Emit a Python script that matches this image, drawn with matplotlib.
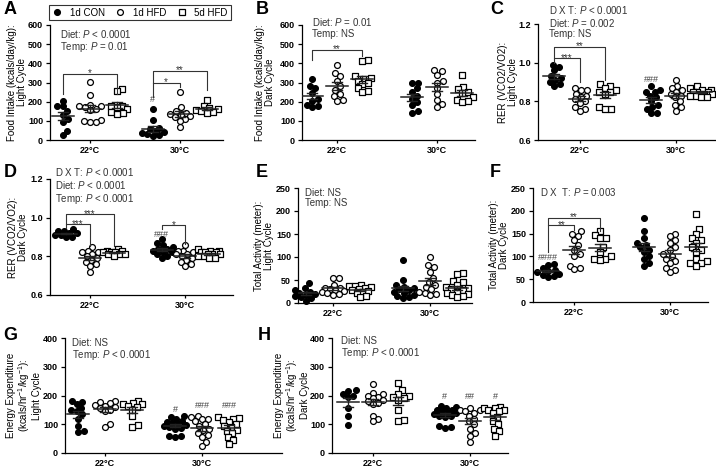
import numpy as np
import matplotlib
matplotlib.use('Agg')
import matplotlib.pyplot as plt
from matplotlib.lines import Line2D
from matplotlib.ticker import FormatStrFormatter

plt.rcParams['font.family'] = ['Liberation Sans', 'DejaVu Sans']
plt.rcParams['mathtext.fontset'] = 'custom'
plt.rcParams['mathtext.it'] = 'Liberation Sans:italic'
plt.rcParams['mathtext.rm'] = 'Liberation Sans'
plt.rcParams['mathtext.bf'] = 'Liberation Sans:bold'

groups = ['1d CON', '1d HFD', '5d HFD']
temps = ['22°C', '30°C']

# each list: [22°C values, 30°C values]
# A: food intake, light cycle
A_con = [[205, 175, 175, 150, 130, 110, 95, 45, 25], [160, 105, 65, 55, 45, 40, 35, 30, 25, 20]]
A_hfd1 = [[305, 235, 185, 180, 175, 170, 160, 155, 105, 100, 95, 95], [250, 170, 150, 140, 135, 130, 125, 120, 110, 100, 70]]
A_hfd5 = [[265, 255, 180, 175, 170, 160, 145, 140, 135], [210, 175, 165, 160, 155, 150, 145, 140]]

# B: food intake, dark cycle
B_con = [[320, 280, 270, 245, 215, 205, 185, 175, 170], [300, 300, 270, 250, 230, 215, 200, 185, 150, 140]]
B_hfd1 = [[390, 350, 335, 310, 280, 260, 240, 230, 210, 205], [365, 360, 340, 310, 300, 270, 240, 210, 190, 170]]
B_hfd5 = [[420, 410, 335, 325, 320, 310, 300, 290, 270, 255, 250], [340, 275, 265, 250, 245, 225, 210, 205, 200]]

# C: RER, light cycle
C_con = [[0.99, 0.98, 0.96, 0.93, 0.92, 0.91, 0.90, 0.89, 0.88], [0.88, 0.86, 0.85, 0.85, 0.83, 0.82, 0.80, 0.78, 0.77, 0.76, 0.74, 0.74]]
C_hfd1 = [[0.87, 0.86, 0.86, 0.84, 0.83, 0.82, 0.81, 0.80, 0.79, 0.77, 0.76, 0.75], [0.91, 0.88, 0.87, 0.86, 0.85, 0.84, 0.83, 0.82, 0.80, 0.78, 0.77, 0.75]]
C_hfd5 = [[0.89, 0.88, 0.87, 0.86, 0.85, 0.85, 0.84, 0.77, 0.76, 0.76], [0.88, 0.87, 0.86, 0.86, 0.85, 0.85, 0.85, 0.84, 0.84, 0.84, 0.83, 0.83, 0.82, 0.82]]

# D: RER, dark cycle
D_con = [[0.94, 0.93, 0.93, 0.92, 0.92, 0.91, 0.91, 0.90, 0.90], [0.89, 0.87, 0.86, 0.85, 0.84, 0.84, 0.83, 0.82, 0.82, 0.81, 0.80, 0.79]]
D_hfd1 = [[0.85, 0.83, 0.82, 0.82, 0.81, 0.80, 0.79, 0.78, 0.77, 0.76, 0.75, 0.72], [0.86, 0.83, 0.83, 0.82, 0.81, 0.81, 0.80, 0.79, 0.78, 0.77, 0.76, 0.75]]
D_hfd5 = [[0.84, 0.83, 0.83, 0.82, 0.82, 0.82, 0.81, 0.81, 0.81, 0.80], [0.84, 0.83, 0.83, 0.82, 0.82, 0.82, 0.81, 0.81, 0.81, 0.80, 0.80, 0.79, 0.79]]

# E: activity, light cycle
E_con = [[43, 33, 28, 25, 22, 20, 18, 15, 12, 10, 5], [93, 50, 40, 35, 32, 30, 28, 25, 22, 18, 15, 12, 10]]
E_hfd1 = [[55, 55, 40, 33, 32, 30, 28, 27, 25, 22, 20, 18], [100, 82, 78, 68, 55, 45, 40, 35, 30, 25, 22, 20, 18]]
E_hfd5 = [[40, 38, 36, 35, 33, 30, 28, 26, 25, 22, 15, 12], [65, 62, 48, 45, 40, 35, 33, 30, 28, 25, 22, 20, 18, 15, 12]]

# F: activity, dark cycle
F_con = [[83, 82, 75, 70, 68, 65, 62, 60, 58, 55], [185, 155, 140, 130, 125, 120, 115, 110, 100, 95, 85, 80]]
F_hfd1 = [[155, 150, 145, 135, 125, 115, 105, 100, 80, 75, 72], [150, 145, 135, 130, 120, 115, 105, 100, 95, 90, 85, 75, 70, 65]]
F_hfd5 = [[155, 148, 140, 140, 120, 110, 100, 95, 95, 92], [192, 160, 150, 140, 135, 130, 120, 115, 110, 95, 90, 85, 85, 80]]

# G: energy expenditure, light cycle
G_con = [[180, 178, 170, 158, 150, 145, 135, 120, 95, 75, 72], [130, 125, 120, 112, 108, 105, 100, 98, 95, 92, 88, 85, 60, 58, 56]]
G_hfd1 = [[180, 178, 175, 168, 165, 160, 155, 150, 145, 100, 92], [130, 125, 120, 118, 110, 100, 95, 85, 80, 70, 62, 55, 40, 25]]
G_hfd5 = [[180, 175, 172, 170, 165, 160, 150, 130, 98, 92], [125, 122, 120, 115, 108, 100, 95, 90, 80, 78, 70, 55, 45, 30]]

# H: energy expenditure, dark cycle
H_con = [[218, 215, 205, 200, 195, 155, 130, 98], [165, 160, 155, 150, 148, 145, 140, 138, 135, 130, 128, 125, 95, 90, 88]]
H_hfd1 = [[240, 210, 205, 200, 195, 190, 185, 180, 175, 170, 130, 120, 110], [155, 150, 148, 145, 140, 130, 120, 110, 100, 85, 70, 60, 40]]
H_hfd5 = [[245, 220, 205, 200, 195, 190, 185, 150, 115, 112], [160, 158, 155, 150, 148, 145, 140, 125, 110, 100, 85, 75, 60]]

W, H = 716, 470
fig = plt.figure(figsize=(W / 100, H / 100), dpi=100)

ee_unit = '(kcals/hr$^{-1}$/kg$^{-1}$):'

# letter, data, box px (left, top, right, bottom), ylim, ystep, ylabel, ylabel x px,
# xlim, col offset, stats text, stats pos px,
# brackets (col1, col2, y, left end, right end, label), hashes (col, y, label)
panels = [
    ('A', (A_con, A_hfd1, A_hfd5), (50, 25, 223, 140), (0, 600), 100,
     'Food Intake (kcals/day/kg):\nLight Cycle', 17, (-0.44, 1.48), 0.30,
     ['Diet: $P$ < 0.0001', 'Temp: $P$ = 0.01'], (60, 33),
     [(0, 2, 345, 240, 240, '*'), (3, 5, 362, 226, 261, '**'), (3, 4, 300, 300, 275, '*')],
     [(3, 209, '#')]),
    ('B', (B_con, B_hfd1, B_hfd5), (302, 25, 475, 140), (0, 600), 100,
     'Food Intake (kcals/day/kg):\nDark Cycle', 265, (-0.35, 1.38), 0.25,
     ['Diet: $P$ = 0.01', 'Temp: NS'], (312, 22),
     [(0, 2, 470, 420, 440, '**')], []),
    ('C', (C_con, C_hfd1, C_hfd5), (538, 24, 715, 140), (0.6, 1.2), 0.2,
     'RER (VCO2/VO2):\nLight Cycle', 508, (-0.43, 1.40), 0.26,
     ['D X T: $P$ < 0.0001', 'Diet: $P$ = 0.002', 'Temp: NS'], (549, 10),
     [(0, 2, 1.083, 1.022, 0.91, '**'), (0, 1, 1.022, 1.0, 0.90, '***')],
     [(3, 0.915, '###')]),
    ('D', (D_con, D_hfd1, D_hfd5), (50, 179, 233, 295), (0.6, 1.2), 0.2,
     'RER (VCO2/VO2):\nDark Cycle', 18, (-0.42, 1.50), 0.25,
     ['D X T: $P$ < 0.0001', 'Diet: $P$ < 0.0001', 'Temp: $P$ < 0.0001'], (55, 172),
     [(0, 2, 1.017, 0.966, 0.855, '***'), (0, 1, 0.966, 0.945, 0.855, '***'),
      (3, 4, 0.96, 0.94, 0.865, '*')],
     [(3, 0.915, '###')]),
    ('E', (E_con, E_hfd1, E_hfd5), (298, 188, 472, 303), (0, 250), 50,
     'Total Activity (meter):\nLight Cycle', 264, (-0.36, 1.43), 0.28,
     ['Diet: NS', 'Temp: NS'], (305, 193), [], []),
    ('F', (F_con, F_hfd1, F_hfd5), (533, 188, 708, 302), (0, 250), 50,
     'Total Activity (meter):\nDark Cycle', 499, (-0.43, 1.40), 0.27,
     ['D X  T: $P$ = 0.003'], (540, 192),
     [(0, 2, 185, 168, 156, '**'), (0, 1, 168, 110, 158, '**')],
     [(0, 97, '####')]),
    ('G', (G_con, G_hfd1, G_hfd5), (65, 338, 282, 453), (0, 400), 100,
     'Energy Expenditure\n' + ee_unit + '\nLight Cycle', 24, (-0.41, 1.82), 0.28,
     ['Diet: NS', 'Temp: $P$ < 0.0001'], (72, 343), [],
     [(3, 152, '#'), (4, 164, '###'), (5, 164, '###')]),
    ('H', (H_con, H_hfd1, H_hfd5), (332, 338, 508, 453), (0, 400), 100,
     'Energy Expenditure\n' + ee_unit + '\nDark Cycle', 292, (-0.42, 1.39), 0.26,
     ['Diet: NS', 'Temp: $P$ < 0.0001'], (341, 341), [],
     [(3, 198, '#'), (4, 198, '##'), (5, 198, '#')]),
]

letter_pos = {'A': (10, 10), 'B': (262, 10), 'C': (497, 10), 'D': (10, 173),
              'E': (262, 173), 'F': (495, 173), 'G': (10, 335), 'H': (264, 335)}

markers = [dict(marker='o', s=18, facecolor='black', edgecolor='black', linewidth=0.8),
           dict(marker='o', s=18, facecolor='white', edgecolor='black', linewidth=0.9),
           dict(marker='s', s=21, facecolor='white', edgecolor='black', linewidth=0.9)]


def swarm(ypx, diam, max_off):
    # simple beeswarm offsets (pixels) for values already in pixels
    order = np.argsort(ypx)
    steps = np.arange(0.5, max_off + 0.01, 0.5)
    cands = np.concatenate([[0.0], np.ravel(np.column_stack([steps, -steps]))])
    offs = np.zeros(len(ypx))
    placed = []
    for i in order:
        y = ypx[i]
        best, best_d = 0.0, -1
        for c in cands:
            if not placed:
                best = c
                break
            d = min(np.hypot(c - px, y - py) for px, py in placed)
            if d >= diam:
                best = c
                break
            if d > best_d:
                best_d, best = d, c
        offs[i] = best
        placed.append((best, y))
    return offs


for (letter, data, box, ylim, ystep, ylabel, ylab_x, xlim, d, stats, stat_xy,
     brackets, hashes) in panels:
    l, t, r, b = box
    ax = fig.add_axes([l / W, 1 - b / H, (r - l) / W, (b - t) / H])
    ax.set_xlim(*xlim)
    ax.set_ylim(*ylim)
    sx = (r - l) / (xlim[1] - xlim[0])
    sy = (b - t) / (ylim[1] - ylim[0])

    cols = [-d, 0, d, 1 - d, 1, 1 + d]
    for gi, series in enumerate(data):
        for ti, vals in enumerate(series):
            vals = np.array(vals, dtype=float)
            xc = cols[ti * 3 + gi]
            offs = swarm(vals * sy, 5.6, 11)
            ax.scatter(xc + offs / sx, vals, zorder=2, clip_on=False, **markers[gi])
            m = vals.mean()
            sem = vals.std(ddof=1) / np.sqrt(len(vals))
            hw = 11 / sx
            cw = 5 / sx
            ax.plot([xc - hw, xc + hw], [m, m], color='#222222', lw=1.1, zorder=3)
            ax.plot([xc, xc], [m - sem, m + sem], color='#222222', lw=1.0, zorder=3)
            for yy in (m - sem, m + sem):
                ax.plot([xc - cw, xc + cw], [yy, yy], color='#222222', lw=1.0, zorder=3)

    for c1, c2, yb, yl, yr, lab in brackets:
        x1, x2 = cols[c1], cols[c2]
        ax.plot([x1, x1, x2, x2], [yl, yb, yb, yr], color='#333333', lw=0.8,
                clip_on=False, zorder=4)
        ax.text((x1 + x2) / 2, yb - 2.5 / sy, lab, ha='center', va='baseline',
                fontsize=7, color='#333333')

    for c, yy, lab in hashes:
        ax.text(cols[c], yy, lab, ha='center', va='center', fontsize=6.5, color='#444444')

    fig.text(stat_xy[0] / W, 1 - (stat_xy[1] - 5.5) / H, '\n'.join(stats), fontsize=7,
             va='top', ha='left', color='#333333', linespacing=1.05)

    fig.text(letter_pos[letter][0] / W, 1 - letter_pos[letter][1] / H, letter,
             fontsize=13, fontweight='bold', ha='center', va='center')

    ax.spines['top'].set_visible(False)
    ax.spines['right'].set_visible(False)
    for sp in ('left', 'bottom'):
        ax.spines[sp].set_linewidth(0.9)
    yt = np.arange(ylim[0], ylim[1] + ystep / 2, ystep)
    ax.set_yticks(yt)
    if ystep < 1:
        ax.yaxis.set_major_formatter(FormatStrFormatter('%.1f'))
    ax.set_xticks([0, 1])
    ax.set_xticklabels(temps)
    ax.tick_params(axis='y', length=3, width=0.9, labelsize=6.5, pad=2)
    ax.tick_params(axis='x', length=2.5, width=0.9, labelsize=6.5, pad=1.5)
    for lab in ax.get_xticklabels() + ax.get_yticklabels():
        lab.set_fontweight('bold')
    ax.set_ylabel(ylabel, fontsize=7, linespacing=1.0, va='center')
    ax.yaxis.set_label_coords((ylab_x - l) / (r - l), 0.5)

handles = [Line2D([], [], linestyle='none', markersize=4.2, marker=mk['marker'],
                  markerfacecolor=mk['facecolor'], markeredgecolor='black',
                  markeredgewidth=0.9) for mk in markers]
leg = fig.legend(handles, groups, ncol=3, loc='center',
                 bbox_to_anchor=(140 / W, 1 - 12.5 / H), frameon=True, fancybox=False,
                 edgecolor='black', fontsize=7, handletextpad=0.8, columnspacing=1.1,
                 borderpad=0.3, handlelength=1.0)
leg.get_frame().set_linewidth(0.8)

fig.savefig('out.png', dpi=100)
